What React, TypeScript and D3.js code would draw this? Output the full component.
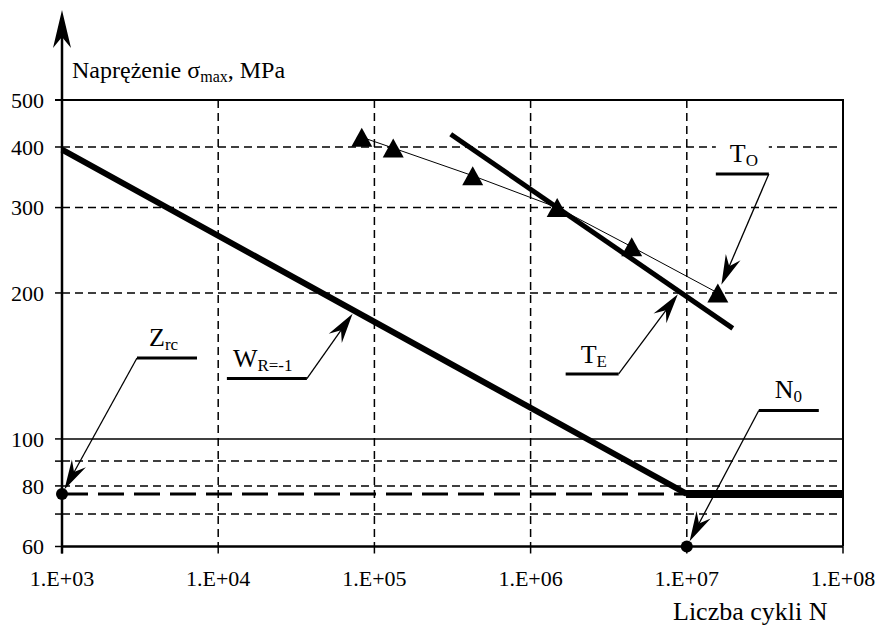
import React from "react";
import * as d3 from "d3";

// ---- data ----
const yTicks = [60, 70, 80, 90, 100, 200, 300, 400, 500];
const yLabels = [60, 80, 100, 200, 300, 400, 500];
const yDashed = [70, 80, 90, 200, 300, 400];
const xTicks = [1e3, 1e4, 1e5, 1e6, 1e7, 1e8];
const xTickLabels = ["1.E+03", "1.E+04", "1.E+05", "1.E+06", "1.E+07", "1.E+08"];

// Wöhler curve W_R=-1 (sloped part + horizontal fatigue limit)
const wN = [1e3, 1e7];
const wS = [395, 77];
const limitN = [1e7, 1e8];
const limitS = [77, 77];
// Z_rc level extended (long dashes)
const zrcN = [1e3, 1e7];
const zrcS = [77, 77];
// experimental points T_O
const toN = [8.3e4, 1.32e5, 4.26e5, 1.48e6, 4.44e6, 1.58e7];
const toS = [419, 398, 349, 300, 249, 200];
// fitted line T_E
const teN = [3.08e5, 1.97e7];
const teS = [425, 169];
// special points
const dotN = [1e3, 1e7];
const dotS = [77, 60];

// callouts: anchor in data units, knee/label offsets in px
const callouts = [
  { main: "Z", sub: "rc", n: 1e3, s: 77, kdx: 75, kdy: -136, shelf: [0, 60], lx: 12, ly: -12, gap: 5 },
  { main: "W", sub: "R=-1", n: 7.5e4, s: 184, kdx: -48, kdy: 68, shelf: [-80, 0], lx: -74, ly: -12, gap: 4 },
  { main: "T", sub: "E", n: 9e6, s: 201, kdx: -61, kdy: 82, shelf: [-53, 0], lx: -38, ly: -11, gap: 3 },
  { main: "T", sub: "O", n: 1.58e7, s: 200, kdx: 51, kdy: -119, shelf: [-53, 0], lx: -39, ly: -12, gap: 9 },
  { main: "N", sub: "0", n: 1e7, s: 60, kdx: 72, kdy: -136, shelf: [0, 60], lx: 16, ly: -13, gap: 6 },
];

const W = 878;
const H = 628;
const left = 62, right = 843, top = 100, bottom = 546.5;
const FONT = "Liberation Serif";

function arrowHead(tx: number, ty: number, fx: number, fy: number, L: number, w: number, notch: number) {
  const dx = tx - fx, dy = ty - fy;
  const len = Math.hypot(dx, dy);
  const ux = dx / len, uy = dy / len;
  const px = -uy, py = ux;
  const bx = tx - ux * L, by = ty - uy * L;
  const nx = tx - ux * (L - notch), ny = ty - uy * (L - notch);
  return `M${tx},${ty}L${bx + px * w},${by + py * w}L${nx},${ny}L${bx - px * w},${by - py * w}Z`;
}

export default function App() {
  const x = d3.scaleLog().domain([1e3, 1e8]).range([left, right]);
  const y = d3.scaleLog().domain([60, 500]).range([bottom, top]);
  const line = d3
    .line<[number, number]>()
    .x((d) => x(d[0]))
    .y((d) => y(d[1]));
  const zip = (a: number[], b: number[]) => a.map((v, i) => [v, b[i]] as [number, number]);

  const triPath = (cx: number, cy: number) => {
    const hw = 10.5, hh = 9.5;
    return `M${cx},${cy - hh}L${cx + hw},${cy + hh}L${cx - hw},${cy + hh}Z`;
  };
  const ts = { fontFamily: FONT };

  return (
    <svg width={W} height={H} style={{ position: "absolute", left: 0, top: 0, background: "#fff" }}>
      <rect x={0} y={0} width={W} height={H} fill="#fff" />
      {/* dashed horizontal gridlines */}
      {yDashed.map((v) => (
        <line key={"hy" + v} x1={left} x2={right} y1={y(v)} y2={y(v)} stroke="#000" strokeWidth={1.5} strokeDasharray="8 5" />
      ))}
      {/* dashed vertical gridlines */}
      {xTicks.slice(1, 5).map((v) => (
        <line key={"vx" + v} x1={x(v)} x2={x(v)} y1={top} y2={bottom} stroke="#000" strokeWidth={1.5} strokeDasharray="8 5" />
      ))}
      {/* solid 100 line */}
      <line x1={left} x2={right} y1={y(100)} y2={y(100)} stroke="#000" strokeWidth={1.5} />
      {/* top border and right border */}
      <line x1={left - 7} x2={right + 1} y1={y(500)} y2={y(500)} stroke="#000" strokeWidth={2} />
      <line x1={right} x2={right} y1={top} y2={bottom} stroke="#000" strokeWidth={2} />

      {/* y ticks */}
      {yTicks.map((v) => (
        <line key={"yt" + v} x1={left - 7} x2={left} y1={y(v)} y2={y(v)} stroke="#000" strokeWidth={1.5} />
      ))}
      {yLabels.map((v) => (
        <text key={"yl" + v} x={44} y={y(v)} dy="0.35em" textAnchor="end" fontSize={22} style={ts}>
          {v}
        </text>
      ))}
      {/* x ticks */}
      {xTicks.map((v, i) => (
        <g key={"xt" + v}>
          <line x1={x(v)} x2={x(v)} y1={bottom} y2={bottom + 7} stroke="#000" strokeWidth={1.5} />
          <text x={x(v)} y={586} textAnchor="middle" fontSize={22} style={ts}>
            {xTickLabels[i]}
          </text>
        </g>
      ))}

      {/* Zrc dashed level */}
      <path d={line(zip(zrcN, zrcS)) || ""} fill="none" stroke="#000" strokeWidth={3} strokeDasharray="26 10" />
      {/* W curve */}
      <path d={line(zip(wN, wS)) || ""} fill="none" stroke="#000" strokeWidth={6} />
      <path d={line(zip(limitN, limitS)) || ""} fill="none" stroke="#000" strokeWidth={8} />
      {/* T_E */}
      <path d={line(zip(teN, teS)) || ""} fill="none" stroke="#000" strokeWidth={5} />
      {/* T_O thin line + triangles */}
      <path d={line(zip(toN, toS)) || ""} fill="none" stroke="#000" strokeWidth={1} />
      {toN.map((n, i) => (
        <path key={"tri" + i} d={triPath(x(n), y(toS[i]))} fill="#000" />
      ))}

      {/* axes */}
      <line x1={left} x2={right} y1={bottom} y2={bottom} stroke="#000" strokeWidth={2.5} />
      <line x1={left} x2={left} y1={bottom + 7} y2={30} stroke="#000" strokeWidth={2.5} />
      <path d={arrowHead(left, 10, left, 100, 38, 9, 11)} fill="#000" />

      {/* dots */}
      {dotN.map((n, i) => (
        <circle key={"dot" + i} cx={x(n)} cy={y(dotS[i])} r={6} fill="#000" />
      ))}

      {/* callouts */}
      {callouts.map((c, i) => {
        const ax = x(c.n), ay = y(c.s);
        const kx = ax + c.kdx, ky = ay + c.kdy;
        const dx = ax - kx, dy = ay - ky;
        const len = Math.hypot(dx, dy);
        const tx = ax - (dx / len) * c.gap, ty = ay - (dy / len) * c.gap;
        return (
          <g key={"co" + i}>
            <rect x={kx + c.shelf[0]} y={ky - 30} width={c.shelf[1] - c.shelf[0]} height={27} fill="#fff" />
            <line x1={kx + c.shelf[0]} x2={kx + c.shelf[1]} y1={ky} y2={ky} stroke="#000" strokeWidth={3} />
            <line x1={kx} y1={ky} x2={tx - (dx / len) * 15} y2={ty - (dy / len) * 15} stroke="#000" strokeWidth={1.3} />
            <path d={arrowHead(tx, ty, kx, ky, 30, 8, 10)} fill="#000" />
            <text x={kx + c.lx} y={ky + c.ly} fontSize={26} style={ts}>
              {c.main}
              <tspan fontSize={17} dy={4}>
                {c.sub}
              </tspan>
            </text>
          </g>
        );
      })}

      {/* axis titles */}
      <text x={72} y={78} fontSize={24} style={ts}>
        Naprężenie σ
        <tspan fontSize={16} dy={4}>max</tspan>
        <tspan dy={-4}>, MPa</tspan>
      </text>
      <text x={673} y={620} fontSize={26} style={ts}>
        Liczba cykli N
      </text>
    </svg>
  );
}
